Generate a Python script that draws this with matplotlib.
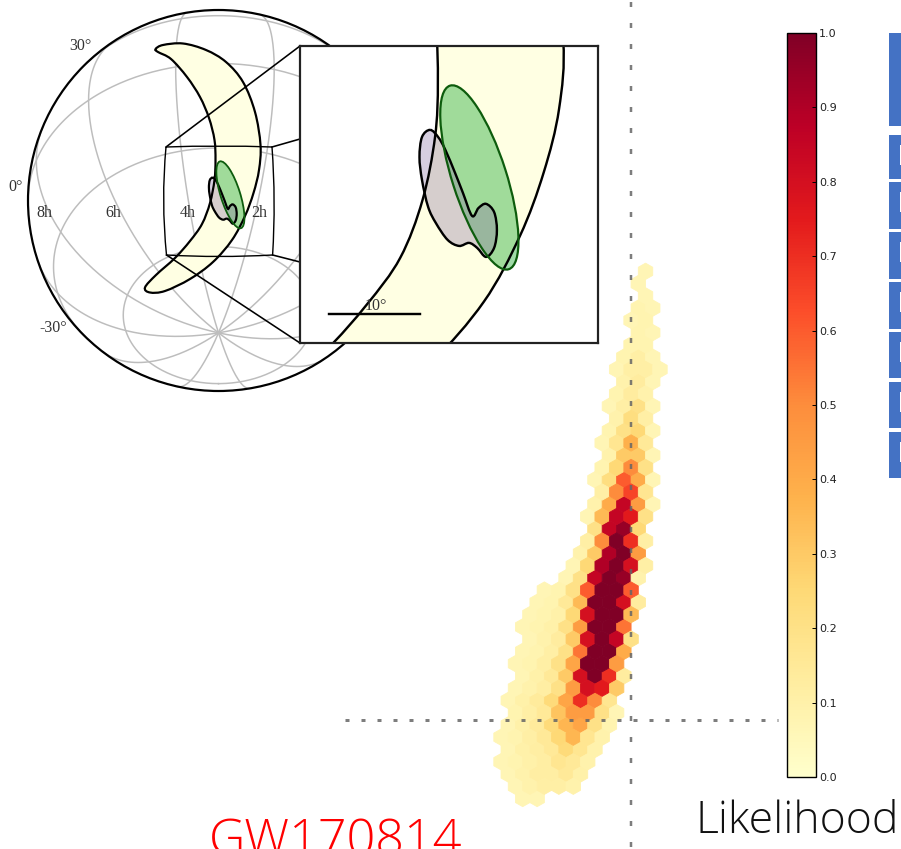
#!/usr/bin/python3

import numpy as np
import matplotlib
matplotlib.use("Agg")
import matplotlib.pyplot as plt
from matplotlib.patches import Circle, Ellipse, PathPatch
from matplotlib.path import Path

plt.rcParams['lines.scale_dashes'] = False

# outlines of the sky regions (in pixels of the big map)
crescent = [(155.6, 49), (163, 45), (183, 43.5), (206, 50), (226, 62), (243, 82), (255, 112),
            (260.5, 145), (259, 170), (253.5, 193), (245, 216), (232, 240), (213, 262), (190, 279),
            (165, 291), (150, 292.5), (145, 287.5), (156, 275), (175, 258), (190, 241), (202, 224),
            (210, 203), (214.5, 180), (215.5, 160), (214.5, 140), (209, 118), (200, 97), (187, 77),
            (171, 59), (158, 52)]
blob = [(212.7, 177.5), (215.6, 180.1), (218.2, 184.8), (221.7, 193.2), (224.5, 200.4), (227.8, 208.8),
        (230.1, 205.9), (232.8, 204.4), (235.7, 207.4), (236.7, 213.9), (235.7, 220.4), (232.8, 223.7),
        (229.6, 220.4), (226.7, 218.6), (223.1, 219.7), (219, 217.5), (214.8, 211.4), (212, 205.5),
        (209.8, 195.7), (208.9, 187.4), (209.8, 180.1)]

parallels = [-60, -30, 0, 30]
ra_hours = list(range(0, 24, 2))
sky_labels = ["30°", "0°", "-30°", "8h", "6h", "4h", "2h"]
sky_label_x = [80, 16, 53, 44, 113, 188, 259]
sky_label_y = [46, 187, 328, 213, 213, 213, 213]

# hexbin cells, one row per entry from the bottom up: first column, then the colour values
hex_first = [0, -1, -1, -2, -1, -2, -1, -1, -1, -1, 0, -1, 0, 0, 0, 0, 1, 1, 3, 3, 4, 4, 5, 4,
             5, 5, 5, 5, 6, 5, 6, 6, 6, 6, 7, 6, 7, 7, 8, 7, 8, 8, 8, 8]
hex_values = [
    [.07, .07],
    [.07, .09, .11, .11, .09],
    [.07, .09, .12, .12, .15, .1],
    [.07, .08, .1, .12, .17, .15, .09],
    [.07, .1, .12, .15, .24, .17, .09],
    [.07, .08, .11, .15, .25, .36, .17, .09],
    [.07, .1, .14, .24, .36, .42, .2, .08],
    [.08, .11, .15, .32, .45, .45, .2, .07],
    [.07, .1, .14, .24, .42, .7, .5, .17],
    [.07, .09, .12, .2, .45, .8, .75, .3],
    [.07, .1, .15, .3, .8, 1, .7, .13],
    [.07, .08, .11, .2, .42, 1, 1, .45],
    [.07, .08, .11, .2, .55, 1, 1, .4],
    [.07, .09, .13, .3, .8, 1, .85, .2],
    [.07, .08, .1, .2, .45, 1, 1, .55],
    [.07, .08, .1, .25, .8, 1, 1, .35],
    [.07, .08, .15, .35, 1, 1, .8, .13],
    [.07, .08, .2, .6, 1, 1, .6],
    [.07, .2, .85, 1, .95, .09],
    [.07, .25, .9, 1, .8, .11],
    [.09, .3, .9, 1, .45],
    [.11, .5, 1, .7, .11],
    [.2, .85, .95, .25],
    [.07, .35, .85, .75, .2],
    [.09, .4, .85, .45, .07],
    [.11, .5, .65, .17],
    [.07, .22, .6, .4, .07],
    [.08, .25, .5, .2],
    [.09, .3, .3, .07],
    [.07, .17, .38, .15],
    [.08, .2, .25, .07],
    [.09, .22, .11],
    [.07, .11, .2, .07],
    [.08, .13, .09],
    [.09, .13, .07],
    [.07, .11, .11, .07],
    [.08, .11, .07],
    [.08, .08],
    [.08, .07],
    [.07, .08],
    [.08, .07],
    [.07],
    [.07],
    [.07],
]

colorbar_ticks = [0.0, 0.1, 0.2, 0.3, 0.4, 0.5, 0.6, 0.7, 0.8, 0.9, 1.0]

box_top = [33, 135, 182, 232, 282, 332, 382, 432]
box_bottom = [126, 179, 229, 279, 329, 378, 428, 478]

W, H = 901, 849
PX = 0.72  # one pixel in points at dpi 100


def rect(x0, y0, x1, y1):
    """ pixel box (y down) to figure fractions """
    return [x0 / W, 1 - y1 / H, (x1 - x0) / W, (y1 - y0) / H]


def smooth_patch(pts, **kw):
    # closed bezier curve through the outline points
    pts = np.array(pts)
    prev = np.roll(pts, 1, axis=0)
    after = np.roll(pts, -1, axis=0)
    after2 = np.roll(pts, -2, axis=0)
    verts = [pts[0]]
    codes = [Path.MOVETO]
    for p0, p1, p2, p3 in zip(prev, pts, after, after2):
        verts += [p1 + (p2 - p0) / 6, p2 - (p3 - p1) / 6, p2]
        codes += [Path.CURVE4] * 3
    return PathPatch(Path(verts, codes), **kw)


def draw_regions(ax, lw_black, lw_green):
    green_xy = (230.4, 194.8)
    ax.add_patch(smooth_patch(crescent, facecolor="#ffffe3", edgecolor="none"))
    ax.add_patch(Ellipse(green_xy, 70, 19.5, angle=72.5, facecolor=(.26, .72, .32, .5), edgecolor="none"))
    ax.add_patch(smooth_patch(blob, facecolor=(.55, .45, .65, .35), edgecolor="none"))
    ax.add_patch(smooth_patch(crescent, facecolor="none", edgecolor="black", lw=lw_black))
    ax.add_patch(smooth_patch(blob, facecolor="none", edgecolor="black", lw=lw_black))
    ax.add_patch(Ellipse(green_xy, 70, 19.5, angle=72.5, facecolor="none", edgecolor="#0d5c0d", lw=lw_green))


fig = plt.figure(figsize=(W / 100, H / 100), dpi=100)
ax = fig.add_axes([0, 0, 1, 1])
ax.axis("off")

# sky grid, orthographic view centred on dec -46
cx, cy, R = 218.5, 200.5, 190.5
lat0 = np.radians(-46)


def ortho(ra_off, dec):
    x = np.cos(dec) * np.sin(ra_off)
    y = np.cos(lat0) * np.sin(dec) - np.sin(lat0) * np.cos(dec) * np.cos(ra_off)
    seen = np.sin(lat0) * np.sin(dec) + np.cos(lat0) * np.cos(dec) * np.cos(ra_off)
    x = np.where(seen >= 0, x, np.nan)
    return cx + R * x, cy - R * y


for dec in parallels:
    t = np.linspace(-np.pi, np.pi, 400)
    gx, gy = ortho(t, np.radians(dec) * np.ones_like(t))
    ax.plot(gx, gy, color="#bdbdbd", lw=1.5 * PX, zorder=1)
for h in ra_hours:
    d = np.linspace(-np.pi / 2, np.pi / 2, 200)
    off = np.radians(17 - (h - 2) * 15)
    gx, gy = ortho(off * np.ones_like(d), d)
    ax.plot(gx, gy, color="#bdbdbd", lw=1.5 * PX, zorder=1)

ax.add_patch(Circle((cx, cy), R, facecolor="none", edgecolor="black", lw=2.2 * PX, zorder=3))
for s, x, y in zip(sky_labels, sky_label_x, sky_label_y):
    ax.text(x, y, s, family="Liberation Serif", fontsize=11.5, color="#333333",
            ha="center", va="center", zorder=4)

regions = ax.inset_axes([0, 0, 1, 1], transform=ax.transAxes, zorder=2)
regions.set_xlim(0, W)
regions.set_ylim(H, 0)
regions.axis("off")
regions.patch.set_alpha(0)
draw_regions(regions, 2.2 * PX, 1.8 * PX)

# box around the zoomed part and the lines to the inset
box = Path([(166, 147), (219, 145), (272, 147), (276, 201), (272.6, 255), (219, 258), (166.5, 255),
            (161, 201), (166, 147)],
           [Path.MOVETO, Path.CURVE3, Path.CURVE3, Path.CURVE3, Path.CURVE3, Path.CURVE3, Path.CURVE3,
            Path.CURVE3, Path.CURVE3])
regions.add_patch(PathPatch(box, facecolor="none", edgecolor="black", lw=1.4 * PX))
for x0, y0, x1, y1 in [(166, 147, 300, 46), (272, 147, 300, 139), (272.6, 255, 300, 262), (166.5, 255, 300, 343)]:
    regions.plot([x0, x1], [y0, y1], color="black", lw=1.6 * PX)

# likelihood hexes
hx, hy, hc = [], [], []
for r, (first, vals) in enumerate(zip(hex_first, hex_values)):
    for c, v in enumerate(vals):
        hx.append(522.7 + 14.45 * (first + c + 0.5 * (r % 2)))
        hy.append(798.5 - 12.26 * r)
        hc.append(v)
hexes = ax.hexbin(hx, hy, C=hc, gridsize=(15, 22),
                  extent=(522.7 - 4 * 14.45, 522.7 + 11 * 14.45, 798.5 - 22 * 24.52, 798.5),
                  cmap="YlOrRd", vmin=0, vmax=1, edgecolors="face", linewidths=0.6, zorder=2)

# dashed cross
ax.plot([345, 778], [719.6, 719.6], color="#666666", lw=3 * PX, alpha=0.85, ls=(0, (4 * PX, 12 * PX)), zorder=5)
ax.plot([631, 631], [2, 849], color="#666666", lw=2.5 * PX, alpha=0.85, ls=(0, (5 * PX, 16 * PX)), zorder=5)

# blue boxes cut off at the right edge
box_top = np.array(box_top)
box_bottom = np.array(box_bottom)
ax.barh((box_top + box_bottom) / 2, 12, height=box_bottom - box_top, left=889, color="#4472c4", zorder=2)
ax.barh(box_top[1:] + 20, 1, height=20, left=900, color="white", zorder=3)

ax.text(336, 842, "GW170814", family="Open Sans", fontweight="light", fontsize=36.2, color="#ff0000",
        ha="center", va="center")
ax.text(797, 822, "Likelihood", family="Open Sans", fontweight="light", fontsize=32, color="#111111",
        ha="center", va="center")

ax.set_xlim(0, W)
ax.set_ylim(H, 0)

# inset with the same regions
inset = fig.add_axes(rect(300, 46, 598, 343), zorder=3)
inset.set_xlim(166, 273)
inset.set_ylim(255, 147)
inset.set_xticks([])
inset.set_yticks([])
for sp in inset.spines.values():
    sp.set_linewidth(2.2 * PX)
    sp.set_color("#222222")
draw_regions(inset, 2.4 * PX, 2.2 * PX)
inset.plot([176.4, 209.1], [244.4, 244.4], color="black", lw=2.4 * PX)
inset.text(193.3, 241.5, "10°", family="Liberation Serif", fontsize=11.5, color="#333333", ha="center", va="center")

# colorbar
cax = fig.add_axes(rect(787, 33, 816, 777), zorder=3)
cb = fig.colorbar(hexes, cax=cax, ticks=colorbar_ticks, format="%.1f")
cb.ax.tick_params(direction="in", length=3, width=0.7, labelsize=8, pad=2, labelcolor="#222222")
cb.outline.set_linewidth(1.0)

fig.savefig("out.png", dpi=100)
